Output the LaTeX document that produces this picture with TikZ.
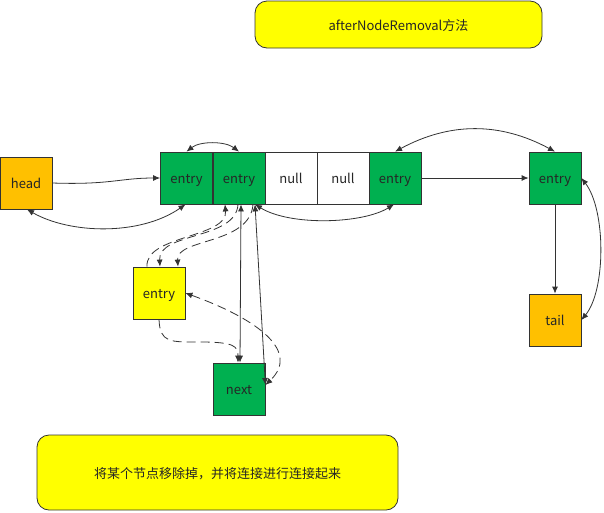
\documentclass[tikz,border=0pt]{standalone}
\usepackage{fontspec}
\setmainfont{Noto Sans CJK SC}
\usetikzlibrary{arrows.meta,calc}
\definecolor{bggreen}{HTML}{00B050}
\definecolor{bgorange}{HTML}{FFC000}
\definecolor{bgyellow}{HTML}{FFFF00}
\definecolor{edge}{HTML}{333333}
\begin{document}
\begin{tikzpicture}[x=1pt,y=-1pt,
  every node/.style={font=\fontsize{13}{15}\selectfont, text=black!85, text height=11pt, text depth=0pt},
  cell/.style={draw=edge, line width=0.8pt, minimum width=52pt, minimum height=52pt, inner sep=0pt},
  gcell/.style={cell, fill=bggreen},
  ocell/.style={cell, fill=bgorange},
  ycell/.style={cell, fill=bgyellow},
  wcell/.style={cell, fill=white},
  note/.style={draw=edge, line width=0.8pt, fill=bgyellow, rounded corners=12pt, inner sep=0pt},
  link/.style={draw=edge, line width=0.8pt, >={Latex[length=7pt,width=6pt]}},
  dlink/.style={link, dash pattern=on 9pt off 5pt}
]
\useasboundingbox (0,0) rectangle (604,512);
\node[note, minimum width=287pt, minimum height=47pt] (title) at (398.5,24.5) {afterNodeRemoval方法};
\node[note, minimum width=361pt, minimum height=75pt] (desc) at (217.5,472.5) {将某个节点移除掉，并将连接进行连接起来};

\node[ocell] (head) at (26,183) {head};
\node[gcell] (e1) at (186.5,178) {entry};
\node[gcell] (e2) at (239,178) {entry};
\node[wcell] (n1) at (291,178) {null};
\node[wcell] (n2) at (343,178) {null};
\node[gcell] (e3) at (395,178) {entry};
\node[gcell] (e4) at (555,178) {entry};
\node[ocell] (tail) at (555,320) {tail};
\node[ycell] (ye) at (159,293) {entry};
\node[gcell] (next) at (239,389) {next};

% head connections
\draw[link,->] (head.east) .. controls (110,185) and (120,178) .. (e1.west);
\draw[link,<->] ([xshift=-1pt]e1.south) .. controls (140,236) and (70,234) .. ([xshift=1pt]head.south);
\draw[link,<->] (e1.north) .. controls (200,141) and (225,141) .. (e2.north);
\draw[link,<->] (e3.north) .. controls (450,122) and (500,122) .. (e4.north);
\draw[link,->] (e3.east) -- (e4.west);
\draw[link,->] (e4.south) -- (tail.north);
\draw[link,<->] (e4.east) .. controls (606,210) and (606,290) .. (tail.east);

% entry2 <-> next
\draw[link,<->] ([xshift=2pt]e2.south) -- ([xshift=1pt]next.north);
\draw[link,<->] ([xshift=16pt]e2.south) -- ([yshift=4pt]next.east);
\draw[link,<->] ([xshift=16pt]e2.south) .. controls (290,226) and (362,224) .. ([xshift=-1pt]e3.south);

% dashed connections with removed entry
\draw[dlink,->] ([xshift=-12pt]ye.north) .. controls (145,235) and (228,238) .. ([xshift=-14pt]e2.south);
\draw[dlink,->] ([xshift=-1pt]e2.south) .. controls (236,240) and (158,232) .. ([xshift=1pt]ye.north);
\draw[dlink,->] ([xshift=14pt]e2.south) .. controls (250,245) and (176,238) .. ([xshift=19pt]ye.north);
\draw[dlink,<->] (ye.east) .. controls (260,320) and (300,352) .. ([yshift=4pt]next.east);
\draw[dlink,->] (ye.south) .. controls (160,343) and (170,342) .. (200,342) .. controls (234,342) and (238,346) .. ([xshift=-1pt]next.north);
\end{tikzpicture}
\end{document}
